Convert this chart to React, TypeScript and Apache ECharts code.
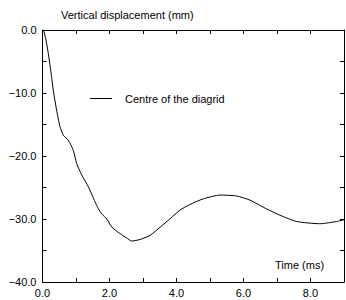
import React, { useEffect, useRef } from "react";
import * as echarts from "echarts";

const timeMs = [0, 0.04, 0.1, 0.17, 0.27, 0.32, 0.42, 0.52, 0.62, 0.77, 0.92, 1.02, 1.17, 1.37, 1.57, 1.67, 1.77, 1.92, 2.07, 2.31, 2.51, 2.66, 2.91, 3.21, 3.51, 3.81, 4.1, 4.4, 4.8, 5.3, 5.8, 6.19, 6.69, 7.09, 7.59, 8.28, 8.78, 9.0];
const displacement = [0, -0.2, -1.5, -3.6, -7.4, -9.5, -12.7, -15.3, -16.7, -17.5, -19.1, -21.2, -23.0, -24.9, -27.3, -28.4, -29.2, -30.0, -31.3, -32.3, -33.0, -33.5, -33.25, -32.6, -31.3, -29.95, -28.6, -27.7, -26.8, -26.2, -26.35, -27.0, -28.4, -29.4, -30.4, -30.75, -30.4, -30.1];
const seriesName = "Centre of the diagrid";
const yTitle = "Vertical displacement (mm)";
const xTitle = "Time (ms)";

const FONT = "'Liberation Sans', Arial, Helvetica, sans-serif";
const fmt = (v: number) => (v < 0 ? "\u2212" + Math.abs(v).toFixed(1) : v.toFixed(1));

function makeAxis(extra: any) {
  return {
    type: "value",
    axisLine: { show: true, onZero: false, lineStyle: { color: "#000", width: 1 } },
    axisTick: { show: true, inside: true, length: 4, lineStyle: { color: "#000", width: 1 } },
    minorTick: { show: true, splitNumber: 2, length: 4, lineStyle: { color: "#000", width: 1 } },
    splitLine: { show: false },
    minorSplitLine: { show: false },
    ...extra,
  };
}

export default function App() {
  const ref = useRef<HTMLDivElement>(null);
  useEffect(() => {
    if (!ref.current) return;
    const chart = echarts.init(ref.current, undefined, { renderer: "svg" });
    const xLabel = {
      show: true,
      margin: 5,
      color: "#000",
      fontSize: 11,
      fontFamily: FONT,
      showMaxLabel: false,
      formatter: (v: number) => fmt(v),
    };
    const yLabel = {
      show: true,
      margin: 6,
      color: "#000",
      fontSize: 11,
      fontFamily: FONT,
      formatter: (v: number) => fmt(v),
    };
    chart.setOption({
      animation: false,
      backgroundColor: "#fff",
      textStyle: { fontFamily: FONT },
      grid: { left: 42.5, right: 2, top: 30, bottom: 18, containLabel: false },
      xAxis: [
        makeAxis({ min: 0, max: 9, interval: 2, position: "bottom", axisLabel: xLabel }),
        makeAxis({ min: 0, max: 9, interval: 2, position: "top", axisLabel: { show: false } }),
      ],
      yAxis: [
        makeAxis({ min: -40, max: 0, interval: 10, position: "left", axisLabel: yLabel }),
        makeAxis({ min: -40, max: 0, interval: 10, position: "right", axisLabel: { show: false } }),
      ],
      legend: {
        show: true,
        left: 85,
        top: 88,
        itemWidth: 22,
        itemHeight: 12,
        icon: "path://M0,6 L22,6 L22,7 L0,7 Z",
        data: [{ name: seriesName, itemStyle: { color: "#000" } }],
        textStyle: { color: "#000", fontSize: 11, fontFamily: FONT, padding: [0, 0, 0, 8] },
      },
      graphic: [
        {
          type: "text",
          left: 61,
          top: 9,
          style: { text: yTitle, fill: "#000", font: `11px ${FONT}` },
        },
        {
          type: "text",
          left: 275,
          top: 259,
          style: { text: xTitle, fill: "#000", font: `11px ${FONT}` },
        },
      ],
      series: [
        {
          name: seriesName,
          type: "line",
          xAxisIndex: 0,
          yAxisIndex: 0,
          data: timeMs.map((t, i) => [t, displacement[i]]),
          showSymbol: false,
          symbol: "none",
          smooth: 0.2,
          lineStyle: { color: "#000", width: 1 },
          itemStyle: { color: "#000" },
        },
      ],
    });
    return () => chart.dispose();
  }, []);
  return (
    <div
      ref={ref}
      style={{ position: "fixed", left: 0, top: 0, width: 346, height: 300, background: "#fff" }}
    />
  );
}
